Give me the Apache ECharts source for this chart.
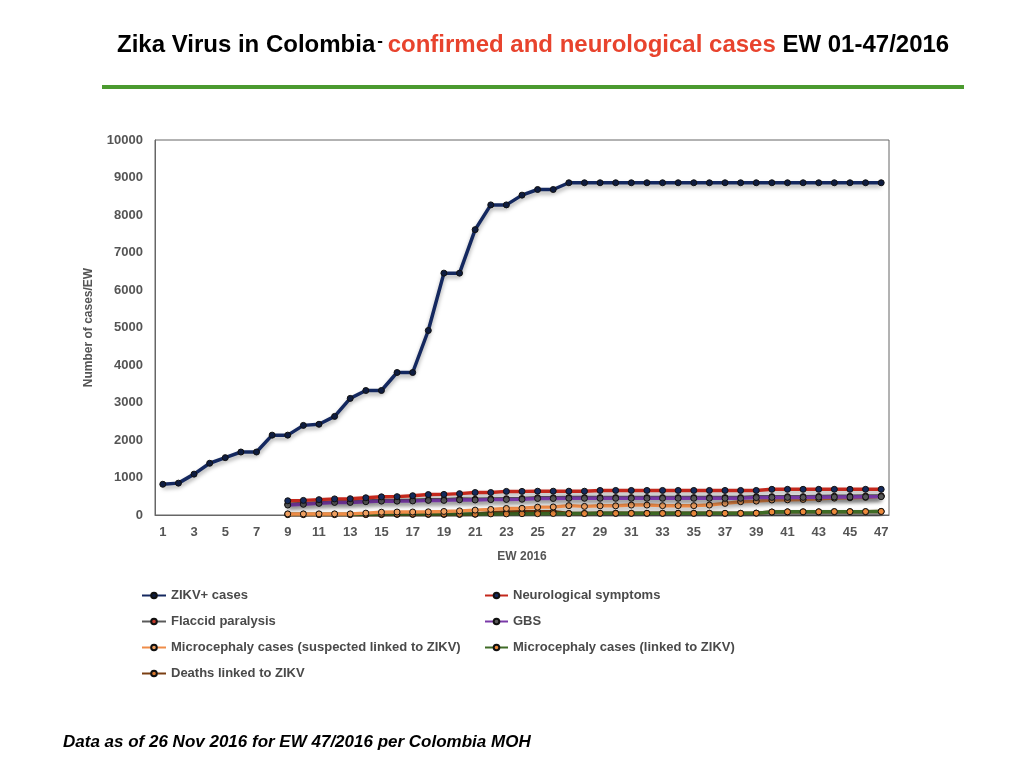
<!DOCTYPE html>
<html lang="en">
<head>
<meta charset="UTF-8">
<title>Zika Virus in Colombia</title>
<script src="https://cdn.jsdelivr.net/npm/echarts@6/dist/echarts.min.js"></script>
<style>
  * { margin: 0; padding: 0; box-sizing: border-box; }
  html, body { width: 1024px; height: 768px; background: #fff; overflow: hidden; }
  #chart { width: 1024px; height: 768px; }
</style>
</head>
<body>
<div id="chart"></div>
<script>
// epidemiological weeks 1..47
const weeks = [];
for (let w = 1; w <= 47; w++) weeks.push(String(w));

const yTicks = [0, 1000, 2000, 3000, 4000, 5000, 6000, 7000, 8000, 9000, 10000];

// values, weeks 1-47 (null = not reported)
const zikvCases = [820, 850, 1090, 1380, 1530, 1680, 1680, 2130, 2130, 2390,
  2420, 2630, 3110, 3320, 3320, 3800, 3800, 4920, 6450, 6450,
  7610, 8270, 8270, 8530, 8680, 8680, 8860, 8860, 8860, 8860,
  8860, 8860, 8860, 8860, 8860, 8860, 8860, 8860, 8860, 8860,
  8860, 8860, 8860, 8860, 8860, 8860, 8860];

const pad = [null, null, null, null, null, null, null, null];

const neuroSymptoms = pad.concat([380, 390, 410, 430, 435, 460, 485, 490, 515, 545,
  550, 570, 600, 600, 630, 630, 635, 635, 635, 635,
  655, 655, 655, 655, 655, 655, 655, 655, 655, 655,
  655, 685, 685, 685, 685, 685, 685, 685, 685]);

const flaccidParalysis = pad.concat([285, 305, 330, 355, 355, 375, 390, 390, 395, 410,
  410, 425, 420, 430, 435, 440, 460, 460, 465, 465,
  465, 465, 465, 465, 465, 465, 465, 465, 465, 465,
  485, 490, 490, 490, 495, 500, 500, 505, 510]);

const gbs = pad.concat([265, 285, 310, 335, 335, 355, 370, 370, 375, 390,
  390, 405, 400, 410, 415, 420, 440, 440, 445, 445,
  445, 445, 445, 445, 445, 445, 445, 445, 445, 445,
  465, 470, 470, 470, 475, 480, 480, 485, 490]);

const microSuspected = pad.concat([30, 30, 30, 30, 30, 50, 75, 80, 80, 85,
  95, 110, 130, 150, 175, 180, 210, 215, 250, 230,
  245, 245, 265, 265, 250, 250, 250, 265, 310, 355,
  370, 400, 405, 415, 435, 450, 460, 470, 500]);

const microLinked = pad.concat([20, 20, 20, 20, 20, 20, 25, 25, 25, 25,
  25, 25, 25, 30, 30, 35, 35, 40, 40, 40,
  45, 45, 45, 45, 45, 45, 45, 45, 45, 45,
  50, 80, 85, 85, 85, 90, 90, 90, 95]);

const deathsLinked = pad.concat([10, 10, 10, 10, 10, 10, 10, 15, 15, 15,
  15, 15, 20, 60, 80, 85, 85, 85, 40, 40,
  45, 45, 45, 45, 45, 45, 45, 45, 45, 45,
  50, 80, 85, 85, 85, 90, 90, 90, 95]);

const chart = echarts.init(document.getElementById('chart'));

function lineSeries(name, data, lineColor, dotColor, z) {
  return {
    name,
    type: 'line',
    data,
    z,
    smooth: false,
    symbol: 'circle',
    symbolSize: 6,
    connectNulls: false,
    lineStyle: {
      width: 3.5,
      color: lineColor,
      shadowColor: 'rgba(0,0,0,0.35)',
      shadowBlur: 4,
      shadowOffsetY: 3
    },
    itemStyle: {
      color: dotColor,
      borderColor: '#111',
      borderWidth: 1
    }
  };
}

const legendText = { color: '#4a4a4a', fontSize: 13, fontWeight: 'bold', fontFamily: 'Liberation Sans, Arial, sans-serif' };
const legendBase = {
  orient: 'vertical',
  top: 589,
  padding: 0,
  itemGap: 13,
  itemWidth: 24,
  itemHeight: 7,
  textStyle: legendText,
  lineStyle: { shadowBlur: 0, shadowOffsetY: 0 }
};

const option = {
  animation: false,
  backgroundColor: '#fff',
  textStyle: { fontFamily: 'Liberation Sans, Arial, sans-serif' },
  title: {
    left: 112,
    top: 28,
    text: '{k|Zika Virus in Colombia}{d|‐ }{r|confirmed and neurological cases}{k| EW 01-47/2016}',
    textStyle: {
      rich: {
        k: { fontSize: 24, fontWeight: 'bold', color: '#000', fontFamily: 'Liberation Sans, Arial, sans-serif' },
        d: { fontSize: 17, fontWeight: 'bold', color: '#000', verticalAlign: 'top', padding: [0, 0, 8, 2] },
        r: { fontSize: 24, fontWeight: 'bold', color: '#e8432d', fontFamily: 'Liberation Sans, Arial, sans-serif' }
      }
    }
  },
  graphic: [
    {
      type: 'rect',
      shape: { x: 102, y: 85, width: 862, height: 4 },
      style: { fill: '#4b9a2f' }
    },
    {
      type: 'text',
      left: 63,
      top: 734,
      style: {
        text: 'Data as of 26 Nov 2016 for EW 47/2016 per Colombia MOH',
        fill: '#000',
        font: 'italic bold 17px Liberation Sans, Arial, sans-serif'
      }
    }
  ],
  legend: [
    Object.assign({}, legendBase, {
      left: 141,
      data: ['ZIKV+ cases', 'Flaccid paralysis', 'Microcephaly cases (suspected linked to ZIKV)', 'Deaths linked to ZIKV']
    }),
    Object.assign({}, legendBase, {
      left: 484,
      itemWidth: 23,
      data: ['Neurological symptoms', 'GBS', 'Microcephaly cases (linked to ZIKV)']
    })
  ],
  grid: {
    left: 155,
    right: 135,
    top: 140,
    bottom: 253,
    show: true,
    borderColor: '#666',
    borderWidth: 1
  },
  xAxis: {
    type: 'category',
    data: weeks,
    boundaryGap: true,
    name: 'EW 2016',
    nameLocation: 'middle',
    nameGap: 36,
    nameTextStyle: { color: '#555', fontSize: 12, fontWeight: 'bold' },
    axisLine: { lineStyle: { color: '#666' } },
    axisTick: { show: false },
    axisLabel: { interval: 1, color: '#555', fontSize: 13, fontWeight: 'bold', margin: 11 }
  },
  yAxis: {
    type: 'value',
    min: yTicks[0],
    max: yTicks[yTicks.length - 1],
    interval: 1000,
    name: 'Number of cases/EW',
    nameLocation: 'middle',
    nameGap: 60,
    nameTextStyle: { color: '#555', fontSize: 12, fontWeight: 'bold' },
    axisLine: { show: true, lineStyle: { color: '#666' } },
    axisTick: { show: false },
    splitLine: { show: false },
    axisLabel: { color: '#555', fontSize: 13, fontWeight: 'bold', margin: 12, formatter: v => String(v) }
  },
  series: [
    lineSeries('Deaths linked to ZIKV', deathsLinked, '#7a3e12', '#d9782e', 1),
    lineSeries('Microcephaly cases (linked to ZIKV)', microLinked, '#3f6b26', '#ee8a3c', 2),
    lineSeries('Microcephaly cases (suspected linked to ZIKV)', microSuspected, '#ef8c48', '#f0a060', 3),
    lineSeries('Flaccid paralysis', flaccidParalysis, '#5a5a5a', '#c0392b', 4),
    lineSeries('GBS', gbs, '#7a3aa8', '#5a5a5a', 5),
    lineSeries('Neurological symptoms', neuroSymptoms, '#c4281c', '#142a5c', 6),
    lineSeries('ZIKV+ cases', zikvCases, '#14285f', '#0e1c40', 7)
  ]
};

chart.setOption(option);
</script>
</body>
</html>
